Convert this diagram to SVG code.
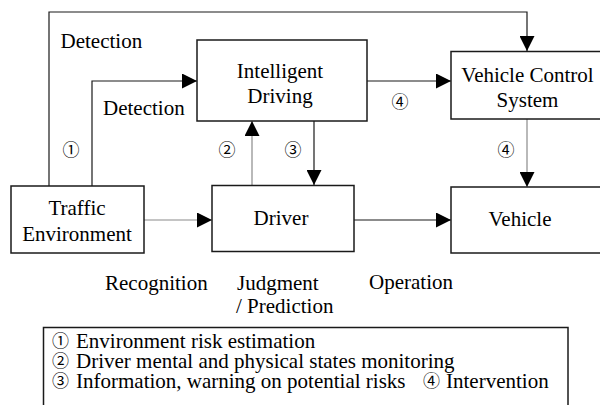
<svg xmlns="http://www.w3.org/2000/svg" width="600" height="405" viewBox="0 0 600 405">
  <style>
    .box { fill: #ffffff; stroke: #1a1a1a; stroke-width: 1.5; }
    .lbl { font-size: 21px; fill: #000; }
    .mid { text-anchor: middle; }
    .num { font-size: 17px; fill: #000; text-anchor: middle; dominant-baseline: central; }
    .leg { font-size: 21px; fill: #000; }
    .cj { font-family: "Noto Sans CJK JP", sans-serif; font-size: 17px; }
    .wire { fill: none; stroke: #1a1a1a; stroke-width: 1.2; }
    .wire.grey { stroke: #8a8a8a; }
  </style>
  <defs>
    <marker id="arrow" markerUnits="userSpaceOnUse" markerWidth="15" markerHeight="15" refX="15" refY="7.5" orient="auto">
      <path d="M0,0 L15,7.5 L0,15 Z" fill="#000"/>
    </marker>
  </defs>
  <rect width="600" height="405" fill="#ffffff"/>

  <!-- connectors -->
  <g id="connectors">
    <polyline class="wire" points="49,186 49,12 527,12 527,51" marker-end="url(#arrow)"/>
    <polyline class="wire" points="92,186 92,81 197,81" marker-end="url(#arrow)"/>
    <line class="wire" x1="367" y1="81" x2="451" y2="81" marker-end="url(#arrow)"/>
    <line class="wire grey" x1="252" y1="185" x2="252" y2="121" marker-end="url(#arrow)"/>
    <line class="wire" x1="314" y1="121" x2="314" y2="185" marker-end="url(#arrow)"/>
    <line class="wire grey" x1="527" y1="119" x2="527" y2="187" marker-end="url(#arrow)"/>
    <line class="wire grey" x1="144" y1="220" x2="212" y2="220" marker-end="url(#arrow)"/>
    <line class="wire" x1="354" y1="220" x2="451" y2="220" marker-end="url(#arrow)"/>
  </g>

  <!-- connector labels -->
  <g id="connector-labels" font-family="Liberation Serif, serif">
    <text class="lbl" x="60.5" y="48">Detection</text>
    <text class="lbl" x="103" y="115">Detection</text>
  </g>
  <g id="connector-numbers" font-family="Noto Sans CJK JP, sans-serif">
    <text class="num" x="71" y="148">①</text>
    <text class="num" x="227" y="148">②</text>
    <text class="num" x="293" y="148">③</text>
    <text class="num" x="400" y="100">④</text>
    <text class="num" x="506" y="148">④</text>
  </g>

  <g id="traffic-environment" font-family="Liberation Serif, serif">
    <rect class="box" x="11" y="186" width="133" height="67"/>
    <text class="lbl mid" x="77" y="215">Traffic</text>
    <text class="lbl mid" x="77" y="241">Environment</text>
  </g>

  <g id="intelligent-driving" font-family="Liberation Serif, serif">
    <rect class="box" x="197" y="40" width="170" height="81"/>
    <text class="lbl mid" x="280" y="78">Intelligent</text>
    <text class="lbl mid" x="280" y="103">Driving</text>
  </g>

  <g id="vehicle-control-system" font-family="Liberation Serif, serif">
    <rect class="box" x="451" y="51.5" width="160" height="67.5"/>
    <text class="lbl mid" x="527.5" y="82">Vehicle Control</text>
    <text class="lbl mid" x="527.5" y="107">System</text>
  </g>

  <g id="driver" font-family="Liberation Serif, serif">
    <rect class="box" x="212" y="185.5" width="142" height="66"/>
    <text class="lbl mid" x="281" y="225">Driver</text>
  </g>

  <g id="vehicle" font-family="Liberation Serif, serif">
    <rect class="box" x="451" y="187" width="160" height="66"/>
    <text class="lbl mid" x="520" y="226">Vehicle</text>
  </g>

  <!-- stage labels -->
  <g id="stages" font-family="Liberation Serif, serif">
    <text class="lbl" x="105" y="290">Recognition</text>
    <text class="lbl" x="237" y="290">Judgment</text>
    <text class="lbl" x="236" y="313">/ Prediction</text>
    <text class="lbl" x="369" y="289">Operation</text>
  </g>

  <!-- legend -->
  <g id="legend" font-family="Liberation Serif, serif">
    <rect class="box" x="43.5" y="327.5" width="524.5" height="90"/>
    <text class="leg" x="52" y="348"><tspan class="cj" dy="-1">①</tspan><tspan x="76" dy="1">Environment risk estimation</tspan></text>
    <text class="leg" x="52" y="368"><tspan class="cj" dy="-1">②</tspan><tspan x="76" dy="1">Driver mental and physical states monitoring</tspan></text>
    <text class="leg" x="52" y="388"><tspan class="cj" dy="-1">③</tspan><tspan x="76" dy="1">Information, warning on potential risks</tspan><tspan class="cj" x="423" dy="-1">④</tspan><tspan x="446" dy="1">Intervention</tspan></text>
  </g>
</svg>
